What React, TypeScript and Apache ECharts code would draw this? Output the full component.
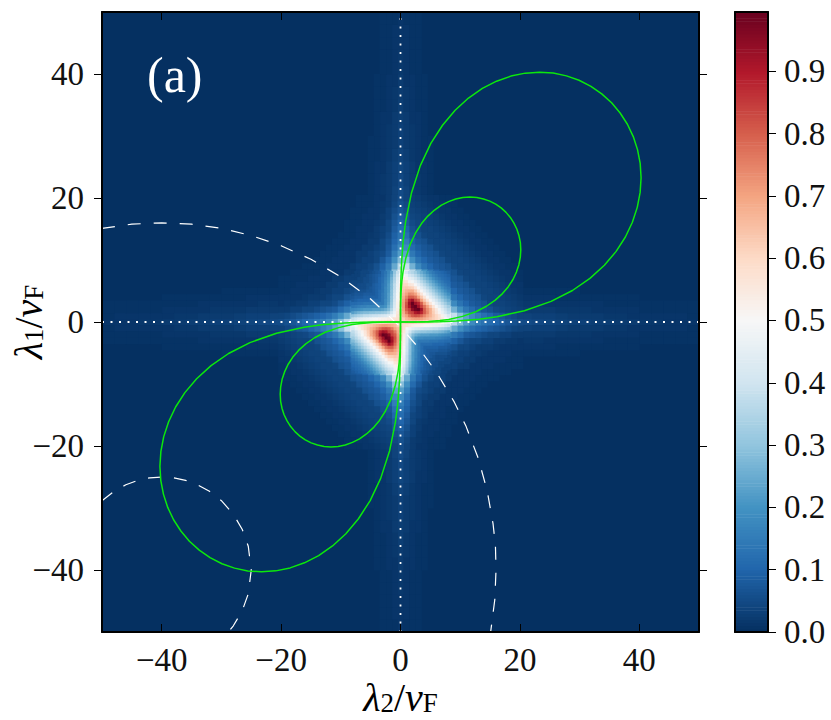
import React, { useEffect, useRef } from 'react';
import * as echarts from 'echarts';

const serif = '"Liberation Serif", serif';

const axisTicks = [-40, -20, 0, 20, 40];
const barTicks = [0, 0.1, 0.2, 0.3, 0.4, 0.5, 0.6, 0.7, 0.8, 0.9];
const barMax = 0.995;
const palette = ['#053061', '#2166ac', '#4393c3', '#92c5de', '#d1e5f0', '#f7f7f7', '#fddbc7', '#f4a582', '#d6604d', '#b2182b', '#67001f'];

// faint arms along the axes, in hundredths: rows are the distance off the axis (0 ... 5), columns the distance along it (21, 23 ... 49)
const armRows = [
  [5, 4.5, 4, 3.5, 3, 3, 2.5, 2.5, 2, 2, 1.5, 1.5, 1, 1, 1],
  [3.5, 3, 3, 2.5, 2, 2, 2, 1.5, 1.5, 1, 1, 1, 1, 1, 0.5],
  [2, 2, 2, 1.5, 1.5, 1.5, 1, 1, 1, 1, 0.5, 0.5, 0.5, 0.5, 0.5],
  [1.5, 1.5, 1, 1, 1, 1, 1, 0.5, 0.5, 0.5, 0.5, 0.5, 0.5, 0.5, 0.5],
  [1, 1, 1, 0.5, 0.5, 0.5, 0.5, 0.5, 0.5, 0.5, 0, 0, 0, 0, 0],
  [0.5, 0.5, 0.5, 0.5, 0.5, 0, 0, 0, 0, 0, 0, 0, 0, 0, 0],
];

// in hundredths: rows lambda1 = 20 ... 0, columns lambda2 = -20 ... 20, step 1
const wideRows = [
  [0,0,0,0,0,0,0,0,0,0,0,0,0,0.5,0.5,0.5,1,1,2,3.5, 5, 3.5,2.5,2,1.5,1,1,0.5,0.5,0.5,0,0,0,0,0,0,0,0,0,0,0],
  [0,0,0,0,0,0,0,0,0,0,0,0,0,0.5,0.5,0.5,1,1.5,2,4, 6, 4.5,3,2.5,2,1.5,1,1,0.5,0.5,0,0,0,0,0,0,0,0,0,0,0],
  [0,0,0,0,0,0,0,0,0,0,0,0,0.5,0.5,0.5,1,1,1.5,3,5, 7, 5.5,3.5,3,2.5,2,1.5,1,1,0.5,0.5,0,0,0,0,0,0,0,0,0,0],
  [0,0,0,0,0,0,0,0,0,0,0,0,0.5,0.5,1,1,1,2,3,6, 8.5, 7,4,3.5,3,2.5,2,1.5,1,1,0.5,0.5,0,0,0,0,0,0,0,0,0],
  [0,0,0,0,0,0,0,0,0,0,0,0.5,0.5,0.5,1,1,1.5,2,4,7, 10, 8,5,4,3.5,3,2.5,2,1.5,1,1,0.5,0.5,0,0,0,0,0,0,0,0],
  [0,0,0,0,0,0,0,0,0,0,0,0.5,0.5,1,1,1,2,3,4,8, 11.5, 10,6,4.5,3.5,3.5,3,2.5,2,1.5,1,1,0.5,0.5,0,0,0,0,0,0,0],
  [0,0,0,0,0,0,0,0,0,0,0.5,0.5,0.5,1,1,1.5,2,3,5,9, 13, 12,7,6,4,3.5,3.5,3,2.5,2,1.5,1,1,0.5,0.5,0,0,0,0,0,0],
  [0,0,0,0,0,0,0,0,0,0.5,0.5,0.5,1,1,1,2,2,4,6,10, 15, 15,9,7,6,4,3.5,3.5,3,2.5,2,1.5,1,1,0.5,0.5,0,0,0,0,0],
  [0,0,0,0,0,0,0,0,0.5,0.5,0.5,1,1,1,2,2,3,4,7,12, 18, 18,11,8.5,7,6,4,3.5,3.5,3,2.5,2,1.5,1,1,0.5,0.5,0,0,0,0],
  [0,0,0,0,0,0,0,0.5,0.5,0.5,1,1,1,2,2,3,4,5,8,15, 22, 23,14,10,8,7,6,4,3.5,3.5,3,2.5,2,1.5,1,1,0.5,0.5,0,0,0],
  [0,0,0,0,0,0,0.5,0.5,0.5,1,1,1,1,2,3,3,4,7,11,19, 28, 29,19,13,10,8,7,6,4,3.5,3.5,3,2.5,2,1.5,1,1,0.5,0.5,0,0],
  [0,0,0,0,0.5,0.5,0.5,0.5,1,1,1,1,2,3,3,4,6,9,14,24, 36, 38,26,18,13,10,8,7,6,4,3.5,3.5,3,2.5,2,1.5,1,1,0.5,0.5,0],
  [0,0,0.5,0.5,0.5,0.5,0.5,1,1,1,1,2,2,3,4,5,7,11,17,30, 44, 46,36,27,20,14,10,8,7,6,4,3.5,3.5,3,2.5,2,1.5,1,1,0.5,0.5],
  [0.5,0.5,0.5,0.5,0.5,1,1,1,1,2,2,3,3,3.5,5,6,8,12,19,34, 50, 52,45,36,28,20,14,10,8,7,6,4,3.5,3.5,3,2.5,2,1.5,1,1,0.5],
  [0.5,0.5,0.5,1,1,1,1,1,2,2,3,3,4,5,5,6,9,13,21,37, 54, 58,52,45,36,28,22,16,10,8,7,6,4,3.5,3.5,3,2.5,2,1.5,1,1],
  [0.5,0.5,1,1,1,1,1.5,2,2,3,3,4,5,6,6,7,9,13,21,38, 56, 66,62,52,45,36,28,22,14,10,8,7,6,4,3.5,3.5,3,2.5,2,1.5,1],
  [1,1,1,1,1.5,2,2,2,3,4,4,6,7,8,9,9,9,14,22,39, 58, 72,75,62,52,45,36,28,20,13,10,8,7,6,4,3.5,3.5,3,2.5,2,1.5],
  [1,1.5,1.5,2,2,3,3,4,4,5,7,9,11,12,13,13,14,14,23,41, 60, 80,90,75,62,52,45,36,27,18,13,10,8,7,6,4,3.5,3.5,3,2.5,2],
  [2,2,3,3,4,4,5,6,7,8,11,14,17,19,21,21,22,23,28,44, 62, 80,95,90,75,62,52,45,36,26,19,14,11,8.5,7,6,4.5,4,3.5,3,2.5],
  [3.5,4,5,6,7,8,9,10,12,15,19,24,30,34,37,38,39,41,44,50, 62, 72,80,80,72,66,58,52,46,38,29,23,18,15,12,10,8,7,5.5,4.5,3.5],
  [5,6,7,8.5,10,11.5,13,15,18,22,28,36,44,50,54,56,58,60,62,62, 60, 62,62,60,58,56,54,50,44,36,28,22,18,15,13,11.5,10,8.5,7,6,5],
];
const wideCentre = 20;

// finer reading of the centre, in hundredths: rows lambda1 = 8 ... 0, columns lambda2 = -8 ... 8, step 0.5
const coreRows = [
  [2,3,3,4,4,4,5,6,7,8,11,13,17,22,30,38, 44, 46,42,37,35,32,28,25,22,19,16,14,12,11,10,9,8],
  [3,3,3,4,4,5,6,7,8,9,11,14,18,24,32,40, 47, 50,47,41,39,36,32,28,25,22,19,16,14,12,11,10,9],
  [3,3,4,4,5,5,6,7,8,10,12,15,19,26,34,43, 50, 54,52,46,44,40,36,32,28,25,22,19,16,14,12,11,10],
  [4,4,4,4,5,5,6,7,8,10,12,16,20,27,35,45, 52, 57,56,51,49,45,40,36,32,28,25,22,19,16,14,12,11],
  [4,4,5,5,5,6,6,8,9,10,13,16,21,28,37,46, 54, 60,60,56,55,50,45,40,36,32,28,25,22,19,16,14,12],
  [4,5,5,5,5,6,7,8,9,10,13,17,21,28,37,47, 55, 62,63,62,61,56,50,45,40,36,32,28,25,22,19,16,14],
  [5,6,6,6,6,7,7,8,9,11,13,17,21,29,38,48, 56, 64,67,68,68,63,56,50,45,40,36,32,28,25,22,19,16],
  [6,7,7,7,8,8,8,8,9,11,14,17,22,29,39,49, 57, 66,70,74,73,70,63,56,50,45,40,36,32,28,25,22,19],
  [7,8,8,8,9,9,9,9,9,11,14,17,22,30,39,50, 58, 68,74,80,80,77,70,63,56,50,45,40,36,32,28,25,22],
  [8,9,10,10,10,10,11,11,11,11,14,18,22,30,40,51, 59, 70,78,88,92,84,80,70,63,56,50,45,40,36,32,28,25],
  [11,11,12,12,13,13,13,14,14,14,14,18,23,31,41,52, 60, 71,81,92,100,92,88,80,70,63,56,50,45,40,36,32,28],
  [13,14,15,16,16,17,17,17,17,18,18,20,25,32,42,52, 61, 71,82,90,98,100,92,84,77,70,63,56,50,45,40,36,32],
  [17,18,19,20,21,21,21,22,22,22,23,25,28,35,44,53, 62, 70,80,84,94,98,100,92,80,73,68,61,55,49,44,39,35],
  [22,24,26,27,28,28,29,29,30,30,31,32,35,40,47,55, 62, 68,76,82,84,90,92,88,80,74,68,62,56,51,46,41,37],
  [30,32,34,35,37,37,38,39,39,40,41,42,44,47,50,57, 62, 66,70,76,80,82,81,78,74,70,67,63,60,56,52,47,42],
  [38,40,43,45,46,47,48,49,50,51,52,52,53,55,57,58, 61, 62,66,68,70,71,71,70,68,66,64,62,60,57,54,50,46],
  [44,47,50,52,54,55,56,57,58,59,60,61,62,62,62,61, 60, 61,62,62,62,61,60,59,58,57,56,55,54,52,50,47,44],
];
const coreCentre = 16;

const bigLoop = [
  [0, 0], [4.67, 0.02], [6.6, 0.06], [9.34, 0.16], [13.2, 0.46], [16.14, 0.85], [20.76, 1.82], [25.22, 3.32],
  [28.8, 5.08], [31.73, 7.04], [34.15, 9.15], [36.12, 11.39], [37.67, 13.71], [38.84, 16.09], [39.66, 18.49],
  [40.14, 20.9], [40.3, 23.27], [40.15, 25.58], [39.7, 27.8], [38.99, 29.91], [38.01, 31.9], [36.79, 33.71],
  [35.36, 35.36], [33.71, 36.79], [31.9, 38.01], [29.91, 38.99], [27.8, 39.7], [25.58, 40.15], [23.27, 40.3],
  [20.9, 40.14], [18.49, 39.66], [16.09, 38.84], [13.71, 37.67], [11.39, 36.12], [9.15, 34.15], [7.04, 31.73],
  [5.08, 28.8], [3.32, 25.22], [1.82, 20.76], [0.85, 16.14], [0.46, 13.2], [0.16, 9.34], [0.06, 6.6], [0.02, 4.67], [0, 0],
];
const smallLoop = [
  [0, 0], [2.34, 0.01], [3.3, 0.03], [4.67, 0.08], [6.6, 0.23], [8.07, 0.42], [10.38, 0.91], [12.61, 1.66],
  [14.4, 2.54], [15.87, 3.52], [17.08, 4.58], [18.06, 5.7], [18.84, 6.86], [19.42, 8.05], [19.83, 9.25],
  [20.07, 10.45], [20.15, 11.64], [20.08, 12.79], [19.85, 13.9], [19.5, 14.96], [19.0, 15.95], [18.4, 16.86],
  [17.68, 17.68], [16.86, 18.4], [15.95, 19.0], [14.96, 19.5], [13.9, 19.85], [12.79, 20.08], [11.64, 20.15],
  [10.45, 20.07], [9.25, 19.83], [8.05, 19.42], [6.86, 18.84], [5.7, 18.06], [4.58, 17.08], [3.52, 15.87],
  [2.54, 14.4], [1.66, 12.61], [0.91, 10.38], [0.42, 8.07], [0.23, 6.6], [0.08, 4.67], [0.03, 3.3], [0.01, 2.34], [0, 0],
];
const bigCircle = [
  [-50, 15.1], [-45, 15.78], [-40, 16], [-35, 15.78], [-30, 15.1], [-25, 13.95], [-20, 12.31], [-15, 10.11],
  [-10, 7.29], [-5, 3.71], [0, -0.81], [3, -4.13], [6, -8.06], [9, -12.89], [11, -16.87], [13, -21.92],
  [14.5, -27.13], [15.5, -32.53], [15.9, -36], [16, -40], [15.8, -44.73], [15.1, -50],
];
const smallCircle = [
  [-50, -28.82], [-48, -27.31], [-46, -26.25], [-44, -25.54], [-42, -25.13], [-40, -25], [-38, -25.13], [-36, -25.54],
  [-34, -26.25], [-32, -27.31], [-30, -28.82], [-28, -31], [-26.5, -33.46], [-25.5, -36.16], [-25, -40],
  [-25.5, -43.84], [-26.5, -46.54], [-28, -49], [-28.82, -50],
];
const horizontalZero = [[-50, 0], [50, 0]];
const verticalZero = [[0, -50], [0, 50]];

const flip = (pts: number[][]) => pts.map(([x, y]) => [-x, -y]);
const colorAt = (v: number) => echarts.color.lerp(Math.min(v / barMax, 1), palette);

// the lower half of the map is the upper half turned by 180 degrees
const toCells = (rows: number[][], centre: number, step: number) => {
  const cells: number[][] = [];
  rows.forEach((row, r) => {
    const y = (centre - r) * step;
    row.forEach((v, c) => {
      if (!v) return;
      const x = (c - centre) * step;
      cells.push([x, y, v / 100, step, step]);
      if (y > 0) cells.push([-x, -y, v / 100, step, step]);
    });
  });
  return cells;
};

const armCells = () => {
  const cells: number[][] = [];
  armRows.forEach((row, off) => {
    row.forEach((v, c) => {
      if (!v) return;
      const along = 21 + c * 2;
      [1, -1].forEach((a) => {
        [1, -1].forEach((b) => {
          if (off === 0 && b < 0) return;
          cells.push([a * along, b * off, v / 100, 2, 1]);
          cells.push([b * off, a * along, v / 100, 1, 2]);
        });
      });
    });
  });
  return cells;
};

const barLevels: number[][] = [];
for (let i = 0; i < 200; i++) barLevels.push([(i * barMax) / 200]);

const minusLabel = (v: number) => (v < 0 ? '\u2212' + -v : '' + v);

const mathRich = {
  i: { fontFamily: serif, fontStyle: 'italic', fontSize: 40, color: '#000' },
  s: { fontFamily: serif, fontSize: 27, color: '#000', padding: [12, 0, 0, 0] },
  n: { fontFamily: serif, fontSize: 40, color: '#000' },
};

const mainX = (position: string, labels: boolean) => ({
  type: 'value', gridIndex: 0, position, min: -50, max: 50, z: 10,
  axisLine: { show: true, onZero: false, lineStyle: { color: '#000', width: 2 } },
  axisTick: { show: true, inside: true, length: 8, customValues: axisTicks, lineStyle: { color: '#000', width: 1 } },
  axisLabel: labels
    ? { show: true, customValues: axisTicks, formatter: minusLabel, margin: 11, fontFamily: serif, fontSize: 33, color: '#111' }
    : { show: false },
  splitLine: { show: false },
});
const mainY = (position: string, labels: boolean) => ({
  type: 'value', gridIndex: 0, position, min: -50, max: 50, z: 10,
  axisLine: { show: true, onZero: false, lineStyle: { color: '#000', width: 2 } },
  axisTick: { show: true, inside: false, length: 8, customValues: axisTicks, lineStyle: { color: '#000', width: 1 } },
  axisLabel: labels
    ? { show: true, customValues: axisTicks, formatter: minusLabel, margin: 18, fontFamily: serif, fontSize: 33, color: '#111' }
    : { show: false },
  splitLine: { show: false },
});
const barX = (position: string) => ({
  type: 'value', gridIndex: 1, position, min: 0, max: 1, z: 10,
  axisLine: { show: true, onZero: false, lineStyle: { color: '#000', width: 2 } },
  axisTick: { show: false }, axisLabel: { show: false }, splitLine: { show: false },
});

const heatSeries = (cells: number[][], z: number) => ({
  type: 'custom', xAxisIndex: 0, yAxisIndex: 0, data: cells, silent: true, z,
  renderItem: (_: any, api: any) => {
    const x = api.value(0), y = api.value(1), halfW = api.value(3) / 2, halfH = api.value(4) / 2;
    const a = api.coord([x - halfW, y + halfH]);
    const b = api.coord([x + halfW, y - halfH]);
    return {
      type: 'rect',
      shape: { x: a[0], y: a[1], width: b[0] - a[0] + 0.5, height: b[1] - a[1] + 0.5 },
      style: { fill: colorAt(api.value(2)) },
    };
  },
});

const App: React.FC = () => {
  const chartRef = useRef<HTMLDivElement | null>(null);

  useEffect(() => {
    if (!chartRef.current) return;
    const myChart = echarts.init(chartRef.current, null, { renderer: 'svg' });

    const curve = (data: number[][], color: string, width: number, type: any = 'solid') => ({
      type: 'line', xAxisIndex: 0, yAxisIndex: 0, data, showSymbol: false, symbol: 'none', z: 4,
      lineStyle: { color, width, type }, silent: true,
    });

    myChart.setOption({
      animation: false,
      backgroundColor: '#fff',
      grid: [
        { left: 102, top: 12, width: 597, height: 620, show: true, backgroundColor: palette[0], borderWidth: 0, outerBoundsMode: 'none' },
        { left: 735, top: 12, width: 33, height: 620, show: false, outerBoundsMode: 'none' },
      ],
      xAxis: [
        {
          ...mainX('bottom', true),
          name: '{i|\u03bb}{s|2}{n|/}{i|v}{s|F}', nameLocation: 'middle', nameGap: 45, nameMoveOverlap: false,
          nameTextStyle: { rich: mathRich },
        },
        mainX('top', false),
        barX('bottom'),
        barX('top'),
      ],
      yAxis: [
        {
          ...mainY('left', true),
          name: '{i|\u03bb}{s|1}{n|/}{i|v}{s|F}', nameLocation: 'middle', nameGap: 54, nameRotate: 90, nameMoveOverlap: false,
          nameTextStyle: { rich: mathRich },
        },
        mainY('right', false),
        {
          type: 'value', gridIndex: 1, position: 'right', min: 0, max: barMax, z: 10,
          axisLine: { show: true, onZero: false, lineStyle: { color: '#000', width: 2 } },
          axisTick: { show: true, length: 8, customValues: barTicks, lineStyle: { color: '#000', width: 1 } },
          axisLabel: {
            show: true, customValues: barTicks, formatter: (v: number) => v.toFixed(1), margin: 16,
            fontFamily: serif, fontSize: 33, color: '#111',
          },
          splitLine: { show: false },
        },
        {
          type: 'value', gridIndex: 1, position: 'left', min: 0, max: barMax, z: 10,
          axisLine: { show: true, onZero: false, lineStyle: { color: '#000', width: 2 } },
          axisTick: { show: false }, axisLabel: { show: false }, splitLine: { show: false },
        },
      ],
      series: [
        heatSeries(armCells(), 1),
        heatSeries(toCells(wideRows, wideCentre, 1), 1),
        heatSeries(toCells(coreRows, coreCentre, 0.5), 2),
        {
          type: 'custom', xAxisIndex: 2, yAxisIndex: 2, data: barLevels, silent: true, z: 1,
          renderItem: (_: any, api: any) => {
            const v = api.value(0);
            const a = api.coord([0, v + barMax / 200]);
            const b = api.coord([1, v]);
            return {
              type: 'rect',
              shape: { x: a[0], y: a[1], width: b[0] - a[0], height: b[1] - a[1] + 0.5 },
              style: { fill: colorAt(v) },
            };
          },
        },
        curve(horizontalZero, '#fff', 1.8, [2, 6.5]),
        curve(verticalZero, '#fff', 1.8, [2, 6.5]),
        curve(bigCircle, '#fff', 1.2, [13, 13]),
        curve(smallCircle, '#fff', 1.2, [13, 13]),
        curve(bigLoop, '#0ce80c', 1.5),
        curve(smallLoop, '#0ce80c', 1.5),
        curve(flip(bigLoop), '#0ce80c', 1.5),
        curve(flip(smallLoop), '#0ce80c', 1.5),
      ],
      graphic: [
        { type: 'text', left: 147, top: 50, z: 20, style: { text: '(a)', fill: '#fff', font: '50px ' + serif } },
      ],
    });

    return () => {
      myChart.dispose();
    };
  }, []);

  return <div ref={chartRef} style={{ position: 'absolute', left: 0, top: 0, width: 831, height: 720, backgroundColor: 'white' }} />;
};

export default App;
